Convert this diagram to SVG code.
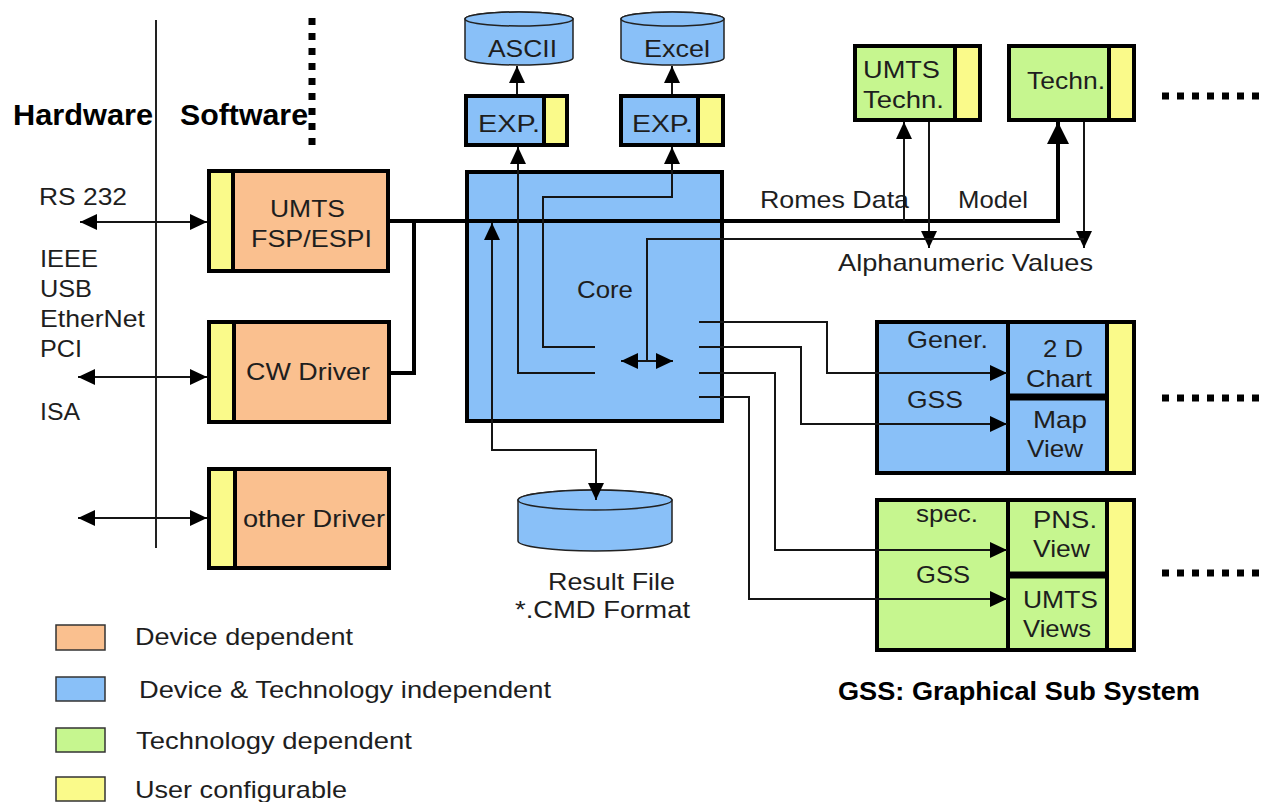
<svg xmlns="http://www.w3.org/2000/svg" width="1266" height="802" viewBox="0 0 1266 802">
<style>
.b{stroke:#000;stroke-width:4}
.or{fill:#FAC08F}.bl{fill:#89C0F8}.gr{fill:#C6F68F}.ye{fill:#FAFA8A}
.t{font-family:"Liberation Sans",Arial,sans-serif;font-size:24px;fill:#1e1e1e}
.tb{font-family:"Liberation Sans",Arial,sans-serif;font-size:29px;font-weight:bold;fill:#000}
.c{fill:none;stroke:#151515;stroke-width:2}
.ck{fill:none;stroke:#000;stroke-width:4}
.cyl{fill:#89C0F8;stroke:#222;stroke-width:1.5}
.dot{stroke:#000;stroke-width:7;stroke-dasharray:7 8}
.lg{stroke:#333;stroke-width:1.5}
</style>
<defs>
<marker id="a" markerUnits="userSpaceOnUse" markerWidth="17" markerHeight="16" viewBox="0 0 17 16" refX="17" refY="8" orient="auto-start-reverse"><path d="M0,0L17,8L0,16z" fill="#000"/></marker>
<marker id="aL" markerUnits="userSpaceOnUse" markerWidth="22" markerHeight="22" viewBox="0 0 22 22" refX="22" refY="11" orient="auto-start-reverse"><path d="M0,0L22,11L0,22z" fill="#000"/></marker>
</defs>
<rect width="1266" height="802" fill="#fff"/>

<g id="hw-sw">
<line x1="156" y1="20" x2="156" y2="548" stroke="#222" stroke-width="2"/>
<line class="dot" x1="312" y1="18" x2="312" y2="146"/>
<text class="tb" x="13" y="125" textLength="140" lengthAdjust="spacingAndGlyphs">Hardware</text>
<text class="tb" x="180" y="125" textLength="128" lengthAdjust="spacingAndGlyphs">Software</text>
<text class="t" x="39" y="205" textLength="88" lengthAdjust="spacingAndGlyphs">RS 232</text>
<text class="t" x="40" y="267" textLength="58" lengthAdjust="spacingAndGlyphs">IEEE</text>
<text class="t" x="40" y="297" textLength="52" lengthAdjust="spacingAndGlyphs">USB</text>
<text class="t" x="40" y="327" textLength="105" lengthAdjust="spacingAndGlyphs">EtherNet</text>
<text class="t" x="40" y="357" textLength="42" lengthAdjust="spacingAndGlyphs">PCI</text>
<text class="t" x="40" y="420" textLength="40" lengthAdjust="spacingAndGlyphs">ISA</text>
</g>

<g id="fsp">
<rect class="b ye" x="209" y="171" width="24" height="100"/>
<rect class="b or" x="233" y="171" width="155" height="100"/>
<text class="t" x="270" y="217" textLength="75" lengthAdjust="spacingAndGlyphs">UMTS</text>
<text class="t" x="251" y="247" textLength="121" lengthAdjust="spacingAndGlyphs">FSP/ESPI</text>
</g>
<g id="cw">
<rect class="b ye" x="209" y="322" width="25" height="100"/>
<rect class="b or" x="234" y="322" width="155" height="100"/>
<text class="t" x="246" y="380" textLength="124" lengthAdjust="spacingAndGlyphs">CW Driver</text>
</g>
<g id="other">
<rect class="b ye" x="209" y="469" width="26" height="99"/>
<rect class="b or" x="235" y="469" width="154" height="99"/>
<text class="t" x="243" y="527" textLength="142" lengthAdjust="spacingAndGlyphs">other Driver</text>
</g>

<g id="core">
<rect class="b bl" x="467" y="172" width="255" height="249"/>
<text class="t" x="577" y="298" textLength="56" lengthAdjust="spacingAndGlyphs">Core</text>
</g>

<g id="exp1">
<rect class="b bl" x="466" y="96" width="78" height="49"/>
<rect class="b ye" x="544" y="96" width="23" height="49"/>
<text class="t" x="478" y="132" textLength="62" lengthAdjust="spacingAndGlyphs">EXP.</text>
</g>
<g id="exp2">
<rect class="b bl" x="621" y="96" width="77" height="49"/>
<rect class="b ye" x="698" y="96" width="25" height="49"/>
<text class="t" x="632" y="132" textLength="61" lengthAdjust="spacingAndGlyphs">EXP.</text>
</g>

<g id="ascii">
<path class="cyl" d="M465,19A54,7 0 0 1 573,19V58A54,7 0 0 1 465,58Z"/>
<ellipse class="cyl" cx="519" cy="19" rx="54" ry="7"/>
<text class="t" x="488" y="57" textLength="69" lengthAdjust="spacingAndGlyphs">ASCII</text>
</g>
<g id="excel">
<path class="cyl" d="M621,19A51.5,7 0 0 1 724,19V58A51.5,7 0 0 1 621,58Z"/>
<ellipse class="cyl" cx="672.5" cy="19" rx="51.5" ry="7"/>
<text class="t" x="644" y="57" textLength="66" lengthAdjust="spacingAndGlyphs">Excel</text>
</g>

<g id="result">
<path class="cyl" d="M518,500A77,10 0 0 1 672,500V541A77,10 0 0 1 518,541Z"/>
<ellipse class="cyl" cx="595" cy="500" rx="77" ry="10"/>
<text class="t" x="548" y="590" textLength="127" lengthAdjust="spacingAndGlyphs">Result File</text>
<text class="t" x="515" y="618" textLength="175" lengthAdjust="spacingAndGlyphs">*.CMD Format</text>
</g>

<g id="umts-techn">
<rect class="b gr" x="855" y="46" width="100" height="74"/>
<rect class="b ye" x="955" y="46" width="25" height="74"/>
<text class="t" x="863" y="78" textLength="77" lengthAdjust="spacingAndGlyphs">UMTS</text>
<text class="t" x="863" y="108" textLength="81" lengthAdjust="spacingAndGlyphs">Techn.</text>
</g>
<g id="techn">
<rect class="b gr" x="1009" y="46" width="100" height="74"/>
<rect class="b ye" x="1109" y="46" width="25" height="74"/>
<text class="t" x="1027" y="89" textLength="78" lengthAdjust="spacingAndGlyphs">Techn.</text>
</g>

<g id="gen-gss">
<rect class="b bl" x="877" y="322" width="131" height="151"/>
<rect class="b bl" x="1008" y="322" width="99" height="75"/>
<rect class="b bl" x="1008" y="397" width="99" height="76"/>
<rect class="b ye" x="1107" y="322" width="27" height="151"/>
<line x1="1008" y1="397" x2="1107" y2="397" stroke="#000" stroke-width="7"/>
<text class="t" x="907" y="348" textLength="81" lengthAdjust="spacingAndGlyphs">Gener.</text>
<text class="t" x="907" y="408" textLength="56" lengthAdjust="spacingAndGlyphs">GSS</text>
<text class="t" x="1043" y="357" textLength="40" lengthAdjust="spacingAndGlyphs">2 D</text>
<text class="t" x="1026" y="387" textLength="66" lengthAdjust="spacingAndGlyphs">Chart</text>
<text class="t" x="1033" y="428" textLength="54" lengthAdjust="spacingAndGlyphs">Map</text>
<text class="t" x="1027" y="457" textLength="56" lengthAdjust="spacingAndGlyphs">View</text>
</g>
<g id="spec-gss">
<rect class="b gr" x="877" y="500" width="131" height="150"/>
<rect class="b gr" x="1008" y="500" width="99" height="75"/>
<rect class="b gr" x="1008" y="575" width="99" height="75"/>
<rect class="b ye" x="1107" y="500" width="27" height="150"/>
<line x1="1008" y1="575" x2="1107" y2="575" stroke="#000" stroke-width="7"/>
<text class="t" x="916" y="522" textLength="62" lengthAdjust="spacingAndGlyphs">spec.</text>
<text class="t" x="916" y="583" textLength="54" lengthAdjust="spacingAndGlyphs">GSS</text>
<text class="t" x="1033" y="528" textLength="64" lengthAdjust="spacingAndGlyphs">PNS.</text>
<text class="t" x="1033" y="557" textLength="57" lengthAdjust="spacingAndGlyphs">View</text>
<text class="t" x="1023" y="608" textLength="75" lengthAdjust="spacingAndGlyphs">UMTS</text>
<text class="t" x="1023" y="637" textLength="68" lengthAdjust="spacingAndGlyphs">Views</text>
</g>

<g id="more">
<line class="dot" x1="1162" y1="96" x2="1266" y2="96"/>
<line class="dot" x1="1162" y1="398" x2="1266" y2="398"/>
<line class="dot" x1="1162" y1="573" x2="1266" y2="573"/>
</g>

<g id="labels">
<text class="t" x="760" y="208" textLength="149" lengthAdjust="spacingAndGlyphs">Romes Data</text>
<text class="t" x="958" y="208" textLength="70" lengthAdjust="spacingAndGlyphs">Model</text>
<text class="t" x="838" y="271" textLength="255" lengthAdjust="spacingAndGlyphs">Alphanumeric Values</text>
<text class="tb" x="838" y="700" style="font-size:26px" textLength="362" lengthAdjust="spacingAndGlyphs">GSS: Graphical Sub System</text>
</g>

<g id="legend">
<rect class="lg or" x="56" y="625" width="49" height="25"/>
<rect class="lg bl" x="56" y="677" width="49" height="24"/>
<rect class="lg gr" x="56" y="728" width="49" height="24"/>
<rect class="lg ye" x="56" y="777" width="49" height="24"/>
<text class="t" x="135" y="645" textLength="218" lengthAdjust="spacingAndGlyphs">Device dependent</text>
<text class="t" x="139" y="698" textLength="412" lengthAdjust="spacingAndGlyphs">Device &amp; Technology independent</text>
<text class="t" x="136" y="749" textLength="276" lengthAdjust="spacingAndGlyphs">Technology dependent</text>
<text class="t" x="135" y="798" textLength="212" lengthAdjust="spacingAndGlyphs">User configurable</text>
</g>

<g id="connectors">
<path class="c" d="M80,222H207" marker-start="url(#a)" marker-end="url(#a)"/>
<path class="c" d="M78,377H207" marker-start="url(#a)" marker-end="url(#a)"/>
<path class="c" d="M78,518H207" marker-start="url(#a)" marker-end="url(#a)"/>
<path class="ck" d="M391,373H414V221"/>
<path class="ck" d="M390,221H1058V122" marker-end="url(#aL)"/>
<path class="c" d="M904,221V122" marker-end="url(#a)"/>
<path class="c" d="M929,122V248" marker-end="url(#a)"/>
<path class="c" d="M1084,122V248" marker-end="url(#a)"/>
<path class="c" d="M647,361V239H1084"/>
<path class="c" d="M621,361H673" marker-start="url(#a)" marker-end="url(#a)"/>
<path class="c" d="M595,373H518V147" marker-end="url(#a)"/>
<path class="c" d="M595,347H543V197H672V147" marker-end="url(#a)"/>
<path class="c" d="M517,94V66" marker-end="url(#a)"/>
<path class="c" d="M672,94V66" marker-end="url(#a)"/>
<path class="c" d="M492,223V450H596V500" marker-start="url(#a)" marker-end="url(#a)"/>
<path class="c" d="M699,322H827V373H1007" marker-end="url(#a)"/>
<path class="c" d="M699,347H801V424H1007" marker-end="url(#a)"/>
<path class="c" d="M699,373H775V550H1007" marker-end="url(#a)"/>
<path class="c" d="M699,397H749V599H1007" marker-end="url(#a)"/>
</g>
</svg>
